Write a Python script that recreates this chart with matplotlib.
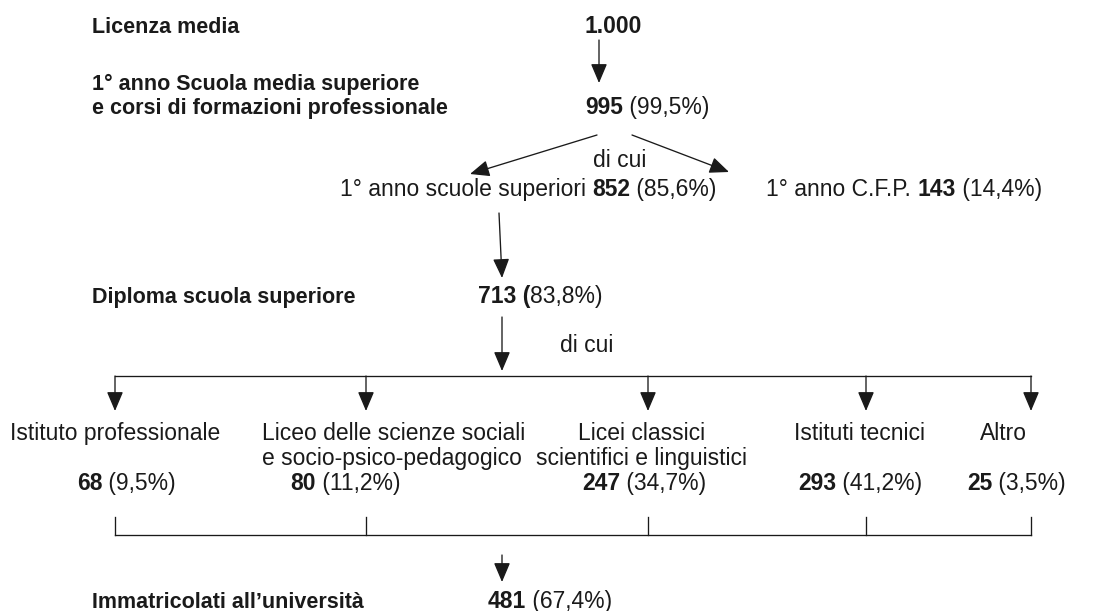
import matplotlib.pyplot as plt

plt.rcParams['font.family'] = ['Liberation Sans', 'DejaVu Sans']

# tappe principali del percorso (su 1.000 licenziati)
stage_titles = ["Licenza media",
                "1° anno Scuola media superiore\ne corsi di formazioni professionale",
                "Diploma scuola superiore",
                "Immatricolati all’università"]
start_total = "1.000"
first_year = 995
first_year_pct = "99,5%"
upper_count, upper_pct = 852, "85,6%"
cfp_count, cfp_pct = 143, "14,4%"
diploma_count, diploma_pct = 713, "83,8%"
univ_count, univ_pct = 481, "67,4%"

# tipi di scuola dei diplomati
categories = ["Istituto professionale",
              "Liceo delle scienze sociali\ne socio-psico-pedagogico",
              "Licei classici\nscientifici e linguistici",
              "Istituti tecnici",
              "Altro"]
counts = [68, 80, 247, 293, 25]
shares = ["9,5%", "11,2%", "34,7%", "41,2%", "3,5%"]

INK = "#1a1a1a"
FS_T = 15.5   # titoli in grassetto a sinistra
FS = 16.5

fig = plt.figure(figsize=(11.01, 6.11), dpi=100)
ax = fig.add_axes([0, 0, 1, 1])
ax.set_xlim(0, 1101)
ax.set_ylim(611, 0)
ax.axis("off")


def title(x, y, s):
    ax.text(x, y, s, fontsize=FS_T, fontweight="bold", va="baseline", ha="left", color=INK)


def rich(x, y, parts):
    # pezzi di testo affiancati: (stringa, grassetto?)
    s, b = parts[0]
    t = ax.text(x, y, s, fontsize=FS, fontweight="bold" if b else "normal",
                va="baseline", ha="left", color=INK)
    for s, b in parts[1:]:
        t = ax.annotate(s, xy=(1, 0), xycoords=t, va="bottom", ha="left",
                        fontsize=FS, fontweight="bold" if b else "normal", color=INK)
    return t


def arrow(x0, y0, x1, y1):
    ax.annotate("", xy=(x1, y1), xytext=(x0, y0),
                arrowprops=dict(arrowstyle="-|>,head_length=0.85,head_width=0.36",
                                mutation_scale=14, color=INK, lw=0.95,
                                shrinkA=0, shrinkB=0))


# licenza media
title(92, 33, stage_titles[0])
rich(584, 33, [(start_total, True)])
arrow(599, 40, 599, 83)

# primo anno
l1, l2 = stage_titles[1].split("\n")
title(92, 90, l1)
title(92, 114, l2)
rich(585, 114, [(str(first_year), True), (f" ({first_year_pct})", False)])

arrow(597, 135, 470, 174)
arrow(632, 135, 729, 172)
ax.text(620, 167, "di cui", fontsize=FS, ha="center", va="baseline", color=INK)

rich(340, 196, [("1° anno scuole superiori ", False), (str(upper_count), True),
                (f" ({upper_pct})", False)])
rich(766, 196, [("1° anno C.F.P. ", False), (str(cfp_count), True),
                (f" ({cfp_pct})", False)])

# diploma
arrow(499, 213, 502, 278)
title(92, 303, stage_titles[2])
rich(478, 303, [(f"{diploma_count} (", True), (f"{diploma_pct})", False)])
arrow(502, 317, 502, 371)
ax.text(560, 352, "di cui", fontsize=FS, ha="left", va="baseline", color=INK)

# diramazione verso i tipi di scuola
branch_x = [115, 366, 648, 866, 1031]
ax.plot([branch_x[0], branch_x[-1]], [376, 376], color=INK, lw=0.95)
for bx in branch_x:
    arrow(bx, 376, bx, 411)

label_x = [115, 262, 642, 860, 1003]
label_ha = ["center", "left", "center", "center", "center"]
value_x = [77, 290, 582, 798, 967]
for i, cat in enumerate(categories):
    for j, line in enumerate(cat.split("\n")):
        ax.text(label_x[i], 440 + 25 * j, line, fontsize=FS, ha=label_ha[i],
                va="baseline", color=INK)
    rich(value_x[i], 490, [(str(counts[i]), True), (f" ({shares[i]})", False)])

# raccolta verso l'università
ax.plot([branch_x[0], branch_x[-1]], [535, 535], color=INK, lw=0.95)
for bx in branch_x:
    ax.plot([bx, bx], [517, 535], color=INK, lw=0.95)
arrow(502, 555, 502, 582)

title(92, 608, stage_titles[3])
rich(488, 608, [(str(univ_count), True), (f" ({univ_pct})", False)])

fig.savefig("out.png", dpi=100)
